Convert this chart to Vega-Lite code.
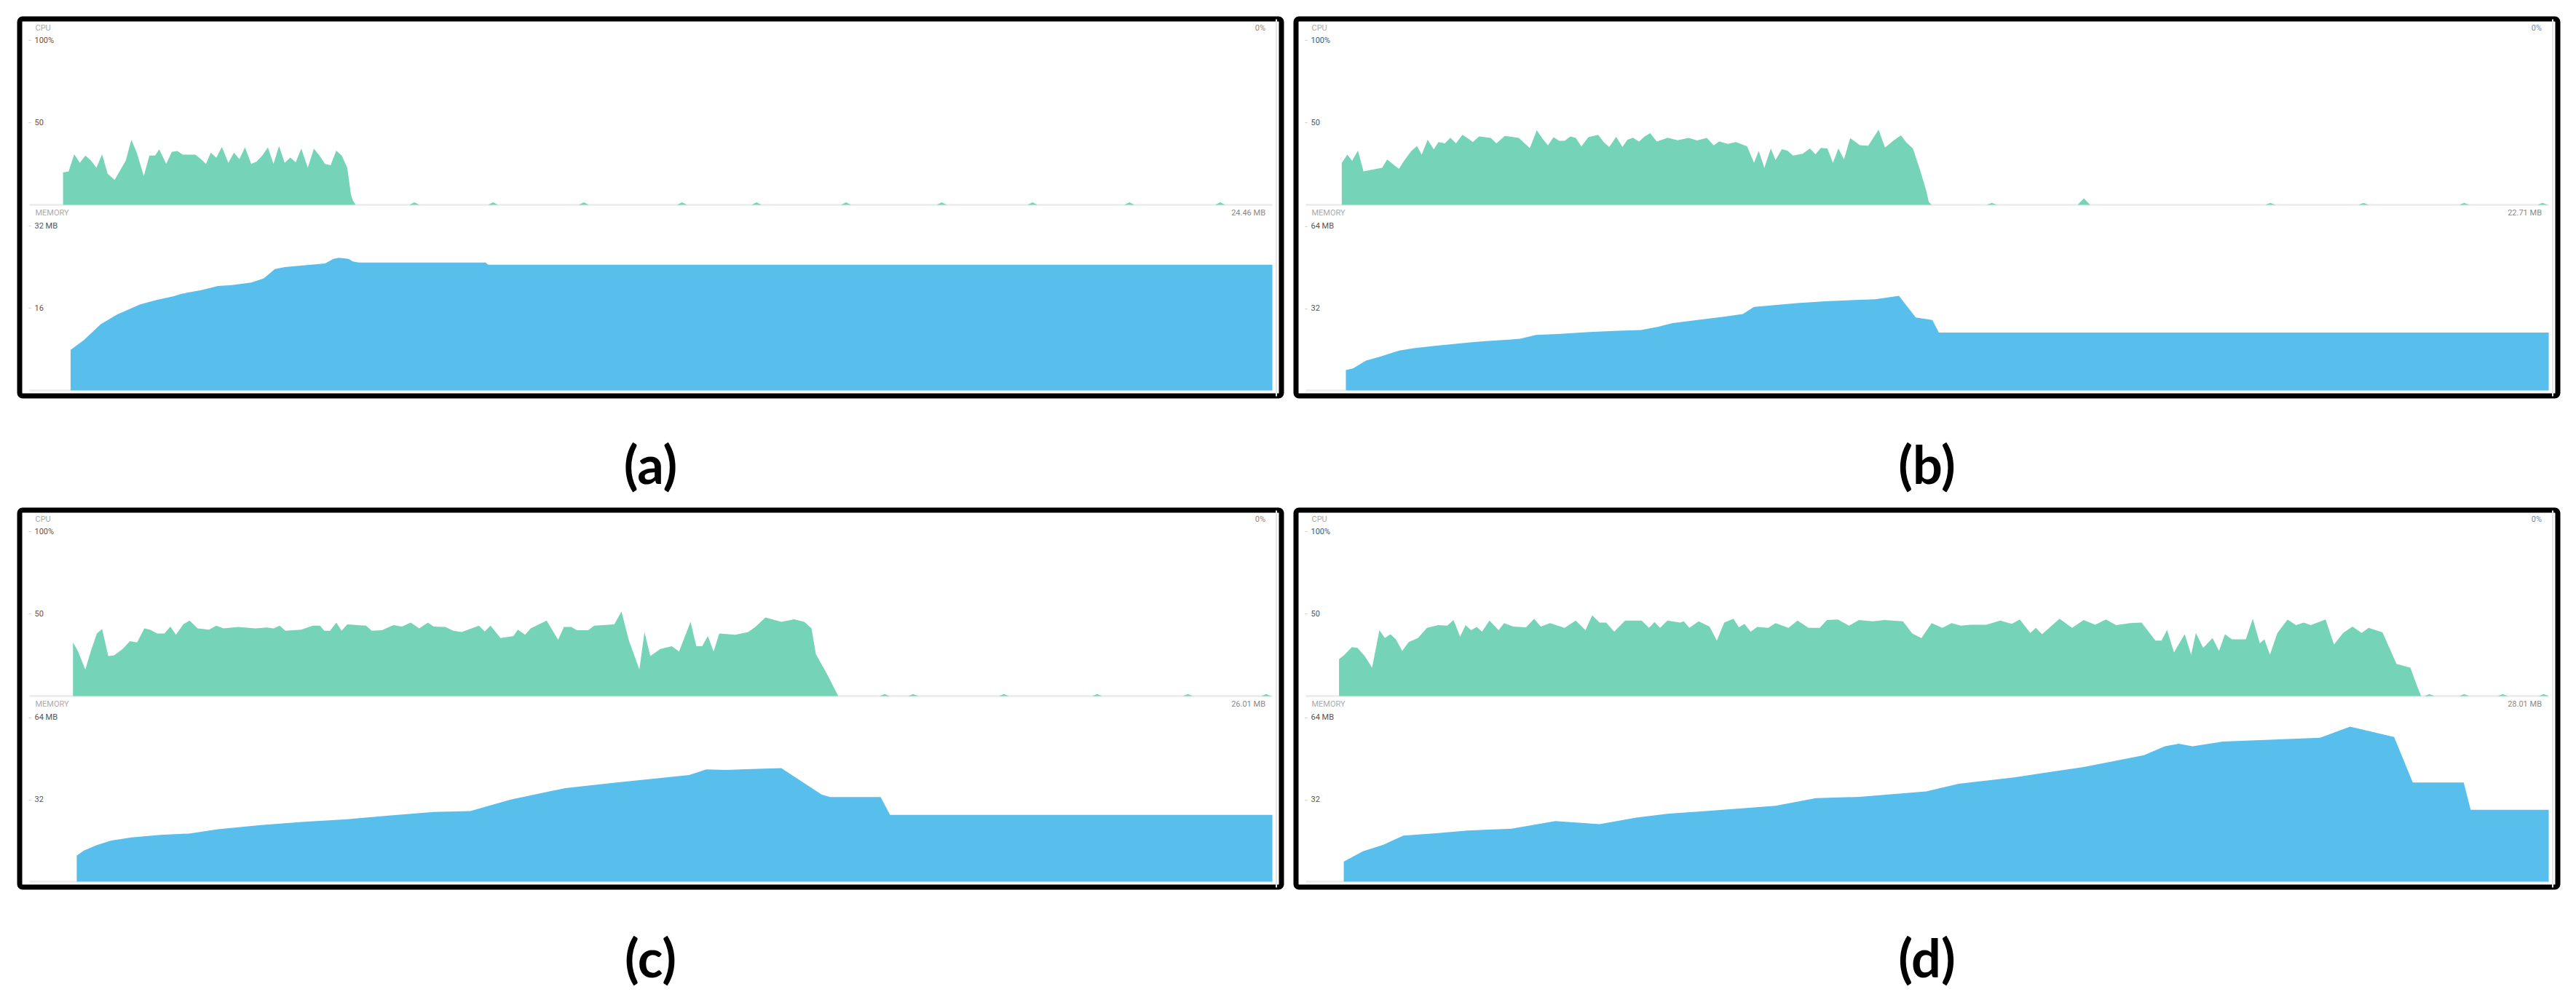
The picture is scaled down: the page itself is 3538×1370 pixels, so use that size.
{
"$schema": "https://vega.github.io/schema/vega-lite/v6.json",
"background": "white",
"padding": {"left": 23, "top": 22, "right": 5, "bottom": 5},
"config": {"view": {"stroke": "#000000", "strokeWidth": 7, "cornerRadius": 4}, "axis": {"labelFont": "Roboto", "titleFont": "Roboto"}},
"datasets": {
"base": [{"start": 0, "end": 100, "level": 0}],
"cpu_a": [{"time":2.70,"cpu":19.7},{"time":3.15,"cpu":20.4},{"time":3.60,"cpu":30.8},{"time":4.05,"cpu":25.6},{"time":4.50,"cpu":30.0},{"time":4.94,"cpu":27.0},{"time":5.39,"cpu":22.6},{"time":5.84,"cpu":30.8},{"time":6.29,"cpu":18.9},{"time":6.85,"cpu":15.2},{"time":7.30,"cpu":21.0},{"time":7.75,"cpu":27.0},{"time":8.20,"cpu":39.6},{"time":8.64,"cpu":31.5},{"time":9.20,"cpu":17.5},{"time":9.65,"cpu":30.0},{"time":10.10,"cpu":30.0},{"time":10.44,"cpu":33.7},{"time":11.00,"cpu":24.9},{"time":11.45,"cpu":32.2},{"time":11.89,"cpu":32.7},{"time":12.34,"cpu":30.5},{"time":13.35,"cpu":30.5},{"time":13.80,"cpu":27.8},{"time":14.20,"cpu":24.9},{"time":14.59,"cpu":31.8},{"time":15.03,"cpu":28.6},{"time":15.48,"cpu":35.2},{"time":16.00,"cpu":25.6},{"time":16.45,"cpu":31.8},{"time":16.89,"cpu":27.8},{"time":17.34,"cpu":34.9},{"time":17.84,"cpu":24.9},{"time":18.28,"cpu":26.3},{"time":18.73,"cpu":30.0},{"time":19.18,"cpu":34.9},{"time":19.63,"cpu":24.9},{"time":20.08,"cpu":35.7},{"time":20.53,"cpu":25.6},{"time":20.98,"cpu":28.8},{"time":21.42,"cpu":25.9},{"time":21.87,"cpu":34.2},{"time":22.39,"cpu":22.6},{"time":22.88,"cpu":34.2},{"time":23.33,"cpu":30.0},{"time":23.78,"cpu":24.9},{"time":24.23,"cpu":24.1},{"time":24.68,"cpu":33.0},{"time":25.12,"cpu":30.0},{"time":25.57,"cpu":22.6},{"time":25.86,"cpu":6.4},{"time":26.02,"cpu":2.7},{"time":26.24,"cpu":0},
{"time":30.57,"cpu":0},{"time":30.97,"cpu":1.5},{"time":31.37,"cpu":0},{"time":36.9,"cpu":0},{"time":37.3,"cpu":1.5},{"time":37.7,"cpu":0},{"time":44.2,"cpu":0},{"time":44.6,"cpu":1.5},{"time":45.0,"cpu":0},{"time":52.1,"cpu":0},{"time":52.5,"cpu":1.5},{"time":52.9,"cpu":0},{"time":58.1,"cpu":0},{"time":58.5,"cpu":1.5},{"time":58.9,"cpu":0},{"time":65.3,"cpu":0},{"time":65.7,"cpu":1.5},{"time":66.1,"cpu":0},{"time":73.0,"cpu":0},{"time":73.4,"cpu":1.5},{"time":73.8,"cpu":0},{"time":80.3,"cpu":0},{"time":80.7,"cpu":1.5},{"time":81.1,"cpu":0},{"time":88.1,"cpu":0},{"time":88.5,"cpu":1.5},{"time":88.9,"cpu":0},{"time":95.4,"cpu":0},{"time":95.8,"cpu":1.5},{"time":96.2,"cpu":0},{"time":100,"cpu":0}],
"mem_a": [{"time":3.31,"mem":7.9},{"time":4.38,"mem":9.8},{"time":5.73,"mem":12.9},{"time":7.07,"mem":14.8},{"time":8.87,"mem":16.7},{"time":10.21,"mem":17.6},{"time":11.56,"mem":18.3},{"time":12.23,"mem":18.8},{"time":13.80,"mem":19.5},{"time":15.15,"mem":20.3},{"time":16.27,"mem":20.5},{"time":17.84,"mem":21.0},{"time":18.85,"mem":21.8},{"time":19.74,"mem":23.6},{"time":20.53,"mem":24.0},{"time":22.32,"mem":24.4},{"time":23.78,"mem":24.7},{"time":24.45,"mem":25.6},{"time":24.90,"mem":25.8},{"time":25.68,"mem":25.6},{"time":26.02,"mem":25.1},{"time":26.5,"mem":24.9},{"time":36.7,"mem":24.9},{"time":36.9,"mem":24.46},{"time":100,"mem":24.46}],
"cpu_b": [{"time":2.89,"cpu":25.6},{"time":3.34,"cpu":30.5},{"time":3.72,"cpu":26.8},{"time":4.19,"cpu":33.0},{"time":4.64,"cpu":20.4},{"time":6.14,"cpu":22.6},{"time":6.54,"cpu":27.5},{"time":7.49,"cpu":21.9},{"time":7.93,"cpu":27.1},{"time":8.49,"cpu":32.7},{"time":8.94,"cpu":35.7},{"time":9.32,"cpu":30.5},{"time":9.80,"cpu":39.6},{"time":10.29,"cpu":33.7},{"time":10.67,"cpu":38.2},{"time":11.19,"cpu":37.4},{"time":11.63,"cpu":40.8},{"time":12.08,"cpu":37.4},{"time":12.60,"cpu":42.6},{"time":13.09,"cpu":40.1},{"time":13.43,"cpu":38.2},{"time":13.94,"cpu":41.6},{"time":14.88,"cpu":40.7},{"time":15.33,"cpu":37.4},{"time":16.01,"cpu":41.9},{"time":17.13,"cpu":40.7},{"time":18.02,"cpu":34.5},{"time":18.58,"cpu":45.3},{"time":19.03,"cpu":40.4},{"time":19.48,"cpu":36.2},{"time":19.93,"cpu":41.1},{"time":20.38,"cpu":38.9},{"time":20.83,"cpu":38.9},{"time":21.28,"cpu":41.6},{"time":21.72,"cpu":40.7},{"time":22.17,"cpu":35.5},{"time":22.73,"cpu":41.1},{"time":23.52,"cpu":42.6},{"time":23.97,"cpu":38.2},{"time":24.41,"cpu":35.2},{"time":24.97,"cpu":41.4},{"time":25.47,"cpu":35.2},{"time":25.87,"cpu":39.6},{"time":26.32,"cpu":40.8},{"time":26.81,"cpu":38.5},{"time":27.22,"cpu":41.4},{"time":27.71,"cpu":43.6},{"time":28.23,"cpu":38.5},{"time":29.12,"cpu":40.8},{"time":29.91,"cpu":39.3},{"time":30.80,"cpu":40.7},{"time":31.48,"cpu":39.2},{"time":32.26,"cpu":40.7},{"time":32.82,"cpu":36.2},{"time":33.26,"cpu":38.6},{"time":33.93,"cpu":37.1},{"time":34.60,"cpu":38.2},{"time":35.50,"cpu":35.6},{"time":36.06,"cpu":25.6},{"time":36.44,"cpu":32.7},{"time":36.89,"cpu":22.4},{"time":37.41,"cpu":34.3},{"time":37.79,"cpu":27.2},{"time":38.30,"cpu":33.8},{"time":38.75,"cpu":33.0},{"time":39.20,"cpu":30.0},{"time":39.98,"cpu":31.1},{"time":40.55,"cpu":34.3},{"time":41.00,"cpu":30.8},{"time":41.44,"cpu":34.6},{"time":41.96,"cpu":34.3},{"time":42.41,"cpu":25.6},{"time":42.85,"cpu":34.3},{"time":43.30,"cpu":27.7},{"time":43.80,"cpu":40.6},{"time":44.58,"cpu":36.3},{"time":45.25,"cpu":35.9},{"time":46.08,"cpu":45.7},{"time":46.60,"cpu":34.8},{"time":47.27,"cpu":39.0},{"time":47.88,"cpu":42.2},{"time":48.33,"cpu":37.8},{"time":48.84,"cpu":34.3},{"time":49.40,"cpu":21.6},{"time":49.90,"cpu":9.0},{"time":50.12,"cpu":1.9},{"time":50.34,"cpu":0},
{"time":54.8,"cpu":0},{"time":55.2,"cpu":1.2},{"time":55.6,"cpu":0},{"time":62.1,"cpu":0},{"time":62.6,"cpu":4.0},{"time":63.1,"cpu":0},{"time":77.2,"cpu":0},{"time":77.6,"cpu":1.2},{"time":78.0,"cpu":0},{"time":84.7,"cpu":0},{"time":85.1,"cpu":1.2},{"time":85.5,"cpu":0},{"time":92.8,"cpu":0},{"time":93.2,"cpu":1.2},{"time":93.6,"cpu":0},{"time":99.1,"cpu":0},{"time":99.5,"cpu":1.2},{"time":99.9,"cpu":0},{"time":100,"cpu":0}],
"mem_b": [{"time":3.22,"mem":7.9},{"time":3.80,"mem":8.6},{"time":4.84,"mem":11.6},{"time":5.89,"mem":13.0},{"time":7.51,"mem":15.5},{"time":8.67,"mem":16.4},{"time":10.52,"mem":17.4},{"time":13.07,"mem":18.6},{"time":14.46,"mem":19.2},{"time":16.54,"mem":19.8},{"time":17.24,"mem":20.1},{"time":18.51,"mem":21.6},{"time":20.48,"mem":22.0},{"time":22.80,"mem":22.7},{"time":25.11,"mem":23.2},{"time":26.97,"mem":23.5},{"time":28.36,"mem":24.8},{"time":29.51,"mem":26.2},{"time":31.83,"mem":27.6},{"time":33.5,"mem":28.6},{"time":35.16,"mem":29.7},{"time":36.06,"mem":32.5},{"time":39.54,"mem":34.0},{"time":41.78,"mem":34.7},{"time":45.81,"mem":35.5},{"time":47.72,"mem":36.8},{"time":49.07,"mem":28.4},{"time":50.41,"mem":27.4},{"time":50.93,"mem":22.5},{"time":100,"mem":22.5}],
"cpu_c": [{"time":3.50,"cpu":32.6},{"time":3.91,"cpu":27.1},{"time":4.49,"cpu":16.1},{"time":4.96,"cpu":27.9},{"time":5.42,"cpu":38.1},{"time":5.84,"cpu":40.8},{"time":6.34,"cpu":24.3},{"time":6.81,"cpu":24.8},{"time":7.50,"cpu":28.7},{"time":8.08,"cpu":33.4},{"time":8.66,"cpu":32.6},{"time":9.24,"cpu":41.2},{"time":9.70,"cpu":40.4},{"time":10.28,"cpu":38.1},{"time":10.86,"cpu":38.1},{"time":11.33,"cpu":42.3},{"time":11.79,"cpu":37.3},{"time":12.37,"cpu":43.6},{"time":12.88,"cpu":45.9},{"time":13.53,"cpu":41.2},{"time":14.45,"cpu":40.4},{"time":15.03,"cpu":42.8},{"time":15.61,"cpu":41.2},{"time":16.77,"cpu":42.0},{"time":18.16,"cpu":41.2},{"time":19.09,"cpu":41.7},{"time":19.66,"cpu":41.2},{"time":20.13,"cpu":42.8},{"time":20.59,"cpu":39.7},{"time":21.86,"cpu":40.4},{"time":22.79,"cpu":42.8},{"time":23.37,"cpu":42.8},{"time":23.72,"cpu":39.7},{"time":24.18,"cpu":39.7},{"time":24.69,"cpu":44.7},{"time":25.11,"cpu":39.7},{"time":25.57,"cpu":43.6},{"time":27.08,"cpu":42.8},{"time":27.54,"cpu":39.7},{"time":28.35,"cpu":40.0},{"time":29.28,"cpu":43.1},{"time":29.97,"cpu":42.3},{"time":30.67,"cpu":44.7},{"time":31.36,"cpu":41.2},{"time":32.06,"cpu":44.7},{"time":32.52,"cpu":42.3},{"time":33.45,"cpu":42.0},{"time":34.10,"cpu":39.7},{"time":34.77,"cpu":38.9},{"time":36.16,"cpu":42.8},{"time":36.63,"cpu":39.3},{"time":37.09,"cpu":42.8},{"time":37.90,"cpu":35.3},{"time":38.94,"cpu":36.5},{"time":39.29,"cpu":40.4},{"time":39.87,"cpu":37.3},{"time":40.33,"cpu":41.2},{"time":41.61,"cpu":45.9},{"time":42.53,"cpu":34.2},{"time":43.00,"cpu":42.0},{"time":43.58,"cpu":42.0},{"time":44.04,"cpu":40.0},{"time":44.96,"cpu":40.0},{"time":45.43,"cpu":42.8},{"time":47.05,"cpu":43.6},{"time":47.63,"cpu":51.4},{"time":48.21,"cpu":34.2},{"time":49.07,"cpu":16.1},{"time":49.48,"cpu":38.9},{"time":49.95,"cpu":24.3},{"time":50.76,"cpu":28.7},{"time":51.68,"cpu":30.3},{"time":52.26,"cpu":27.1},{"time":53.19,"cpu":45.1},{"time":53.65,"cpu":30.3},{"time":54.12,"cpu":30.3},{"time":54.58,"cpu":36.5},{"time":55.04,"cpu":27.1},{"time":55.50,"cpu":38.1},{"time":56.78,"cpu":37.3},{"time":57.82,"cpu":38.9},{"time":58.40,"cpu":42.0},{"time":59.21,"cpu":47.8},{"time":60.49,"cpu":45.1},{"time":61.53,"cpu":46.7},{"time":62.34,"cpu":45.1},{"time":62.92,"cpu":41.2},{"time":63.27,"cpu":25.5},{"time":64.19,"cpu":13.0},{"time":65.07,"cpu":0},
{"time":68.4,"cpu":0},{"time":68.8,"cpu":1.2},{"time":69.2,"cpu":0},{"time":70.7,"cpu":0},{"time":71.1,"cpu":1.2},{"time":71.5,"cpu":0},{"time":78.0,"cpu":0},{"time":78.4,"cpu":1.2},{"time":78.8,"cpu":0},{"time":85.5,"cpu":0},{"time":85.9,"cpu":1.2},{"time":86.3,"cpu":0},{"time":92.8,"cpu":0},{"time":93.2,"cpu":1.2},{"time":93.6,"cpu":0},{"time":99.1,"cpu":0},{"time":99.5,"cpu":1.2},{"time":99.9,"cpu":0},{"time":100,"cpu":0}],
"mem_c": [{"time":3.80,"mem":10.1},{"time":4.38,"mem":12.1},{"time":5.42,"mem":14.2},{"time":6.58,"mem":16.0},{"time":8.20,"mem":17.2},{"time":10.51,"mem":18.2},{"time":12.83,"mem":18.7},{"time":15.15,"mem":20.4},{"time":18.62,"mem":22.0},{"time":22.10,"mem":23.3},{"time":25.57,"mem":24.3},{"time":29.05,"mem":25.8},{"time":32.52,"mem":27.1},{"time":35.47,"mem":27.5},{"time":38.71,"mem":31.9},{"time":43.11,"mem":36.4},{"time":46.82,"mem":38.4},{"time":53.07,"mem":41.5},{"time":54.46,"mem":43.7},{"time":56.08,"mem":43.5},{"time":60.49,"mem":44.2},{"time":63.73,"mem":33.9},{"time":64.42,"mem":32.9},{"time":68.48,"mem":32.9},{"time":69.24,"mem":26.0},{"time":100,"mem":26.0}],
"cpu_d": [{"time":2.67,"cpu":22.4},{"time":3.11,"cpu":25.1},{"time":3.70,"cpu":29.8},{"time":4.15,"cpu":29.3},{"time":4.74,"cpu":24.3},{"time":5.33,"cpu":17.2},{"time":5.92,"cpu":40.0},{"time":6.36,"cpu":35.3},{"time":6.80,"cpu":37.6},{"time":7.25,"cpu":34.5},{"time":7.75,"cpu":27.4},{"time":8.28,"cpu":32.9},{"time":9.02,"cpu":35.3},{"time":9.75,"cpu":41.5},{"time":10.64,"cpu":43.1},{"time":11.38,"cpu":42.8},{"time":11.88,"cpu":46.2},{"time":12.41,"cpu":36.1},{"time":12.85,"cpu":43.1},{"time":13.30,"cpu":40.0},{"time":13.74,"cpu":42.0},{"time":14.18,"cpu":39.2},{"time":14.77,"cpu":45.9},{"time":15.51,"cpu":40.0},{"time":15.95,"cpu":44.4},{"time":16.69,"cpu":42.3},{"time":17.72,"cpu":41.8},{"time":18.37,"cpu":47.0},{"time":18.90,"cpu":42.3},{"time":19.64,"cpu":44.4},{"time":20.82,"cpu":41.5},{"time":21.71,"cpu":45.9},{"time":22.50,"cpu":40.0},{"time":23.04,"cpu":49.1},{"time":23.63,"cpu":44.7},{"time":24.16,"cpu":44.7},{"time":24.81,"cpu":39.2},{"time":25.69,"cpu":45.9},{"time":27.02,"cpu":45.9},{"time":27.61,"cpu":41.5},{"time":28.05,"cpu":45.0},{"time":28.50,"cpu":41.5},{"time":29.09,"cpu":45.9},{"time":30.12,"cpu":44.7},{"time":30.41,"cpu":45.5},{"time":30.86,"cpu":41.5},{"time":31.60,"cpu":45.5},{"time":32.48,"cpu":42.3},{"time":33.07,"cpu":33.7},{"time":33.66,"cpu":44.7},{"time":34.40,"cpu":47.0},{"time":34.84,"cpu":41.8},{"time":35.29,"cpu":43.9},{"time":35.79,"cpu":39.2},{"time":36.32,"cpu":42.0},{"time":37.20,"cpu":41.5},{"time":37.79,"cpu":44.4},{"time":38.83,"cpu":41.5},{"time":39.56,"cpu":45.9},{"time":40.45,"cpu":41.5},{"time":41.34,"cpu":41.5},{"time":41.93,"cpu":46.2},{"time":42.81,"cpu":46.6},{"time":43.70,"cpu":42.8},{"time":44.50,"cpu":46.2},{"time":45.62,"cpu":45.5},{"time":46.55,"cpu":46.2},{"time":48.04,"cpu":45.5},{"time":48.79,"cpu":38.1},{"time":49.53,"cpu":35.3},{"time":50.35,"cpu":44.4},{"time":51.21,"cpu":41.5},{"time":51.96,"cpu":44.4},{"time":52.70,"cpu":42.8},{"time":53.45,"cpu":43.4},{"time":54.75,"cpu":43.4},{"time":55.87,"cpu":45.9},{"time":56.80,"cpu":43.9},{"time":57.44,"cpu":46.6},{"time":58.29,"cpu":38.4},{"time":58.74,"cpu":41.5},{"time":59.23,"cpu":37.6},{"time":60.64,"cpu":47.0},{"time":61.65,"cpu":41.5},{"time":62.58,"cpu":46.2},{"time":63.51,"cpu":43.4},{"time":64.37,"cpu":46.6},{"time":65.19,"cpu":43.1},{"time":66.31,"cpu":44.4},{"time":67.24,"cpu":44.7},{"time":68.36,"cpu":33.7},{"time":68.85,"cpu":33.7},{"time":69.29,"cpu":40.3},{"time":69.85,"cpu":26.6},{"time":70.71,"cpu":37.6},{"time":71.23,"cpu":25.1},{"time":71.61,"cpu":38.4},{"time":72.20,"cpu":29.3},{"time":72.95,"cpu":35.3},{"time":73.47,"cpu":27.4},{"time":73.95,"cpu":37.6},{"time":74.51,"cpu":34.5},{"time":75.63,"cpu":34.5},{"time":76.19,"cpu":47.0},{"time":76.75,"cpu":32.1},{"time":77.12,"cpu":34.5},{"time":77.57,"cpu":25.1},{"time":78.17,"cpu":38.4},{"time":78.99,"cpu":46.6},{"time":79.66,"cpu":43.1},{"time":80.29,"cpu":44.7},{"time":80.85,"cpu":43.1},{"time":82.05,"cpu":46.6},{"time":82.72,"cpu":31.3},{"time":83.46,"cpu":38.4},{"time":84.21,"cpu":42.3},{"time":84.95,"cpu":38.4},{"time":85.51,"cpu":41.5},{"time":86.63,"cpu":38.7},{"time":87.75,"cpu":19.6},{"time":88.87,"cpu":17.2},{"time":89.36,"cpu":7.1},{"time":89.73,"cpu":0},
{"time":90.0,"cpu":0},{"time":90.4,"cpu":1.2},{"time":90.8,"cpu":0},{"time":92.8,"cpu":0},{"time":93.2,"cpu":1.2},{"time":93.6,"cpu":0},{"time":95.9,"cpu":0},{"time":96.3,"cpu":1.2},{"time":96.7,"cpu":0},{"time":99.2,"cpu":0},{"time":99.6,"cpu":1.2},{"time":100,"cpu":0}],
"mem_d": [{"time":3.05,"mem":7.8},{"time":4.59,"mem":11.8},{"time":6.21,"mem":14.3},{"time":7.84,"mem":17.9},{"time":10.64,"mem":18.9},{"time":13.00,"mem":19.9},{"time":16.54,"mem":20.6},{"time":20.08,"mem":23.6},{"time":23.63,"mem":22.4},{"time":26.58,"mem":24.9},{"time":29.23,"mem":26.5},{"time":32.19,"mem":27.5},{"time":37.79,"mem":29.5},{"time":41.04,"mem":32.5},{"time":44.53,"mem":33.0},{"time":49.91,"mem":35.1},{"time":52.52,"mem":38.1},{"time":56.99,"mem":40.6},{"time":62.58,"mem":44.6},{"time":67.43,"mem":49.2},{"time":69.11,"mem":52.7},{"time":70.23,"mem":53.7},{"time":71.34,"mem":52.7},{"time":73.77,"mem":54.5},{"time":81.60,"mem":56.0},{"time":84.02,"mem":60.3},{"time":87.56,"mem":56.3},{"time":89.06,"mem":38.6},{"time":93.16,"mem":38.6},{"time":93.72,"mem":28.0},{"time":100,"mem":28.0}]
},
"spacing": 14,
"resolve": {"scale": {"x": "independent", "y": "independent"}},
"vconcat": [
{"hconcat": [
{"width": 1733, "height": 518,
 "title": {"text": "(a)", "orient": "bottom", "anchor": "middle", "frame": "group", "offset": 121, "baseline": "alphabetic", "fontSize": 72, "font": "Lato", "fontWeight": "bold", "color": "#000000"},
 "resolve": {"scale": {"y": "independent"}, "axis": {"y": "independent"}},
 "layer": [
  {"data": {"name": "base"}, "mark": {"type": "rule", "color": "#eeeeee", "strokeWidth": 3},
   "encoding": {"x": {"field": "start", "type": "quantitative", "scale": {"domain": [-0.791, 100.73]}, "axis": null}, "x2": {"field": "end"},
    "y": {"field": "level", "type": "quantitative", "scale": {"domain": [-116.15, 113.05]}, "axis": {"orient": "right", "offset": -7.5, "values": [], "domain": true, "domainColor": "#e6e6e6", "domainWidth": 2, "ticks": false, "labels": false, "grid": false, "title": "0%", "titleAngle": 0, "titleAlign": "right", "titleBaseline": "middle", "titleX": -15, "titleY": 12.5, "titleFontSize": 11, "titleColor": "#888888", "titleFontWeight": "normal"}}}},
  {"data": {"name": "cpu_a"}, "mark": {"type": "area", "color": "#75d3b7", "opacity": 1},
   "encoding": {"x": {"field": "time", "type": "quantitative", "scale": {"domain": [-0.791, 100.73]}, "axis": null},
    "y": {"field": "cpu", "type": "quantitative", "scale": {"domain": [-116.15, 113.05]}, "axis": {"orient": "left", "offset": -15, "values": [50, 100], "labelExpr": "datum.value == 100 ? '100%' : '50'", "domain": false, "ticks": true, "tickSize": 3, "tickColor": "#cccccc", "grid": false, "labelAlign": "left", "labelPadding": -8, "labelBaseline": "middle", "labelFontSize": 11, "labelColor": "#555555", "labelOverlap": false, "title": "CPU", "titleAngle": 0, "titleAlign": "left", "titleBaseline": "middle", "titleX": 6, "titleY": 12.5, "titleFontSize": 11, "titleColor": "#aaaaaa", "titleFontWeight": "normal"}},
    "y2": {"datum": 0}}},
  {"data": {"name": "base"}, "mark": {"type": "rule", "color": "#eeeeee", "strokeWidth": 3},
   "encoding": {"x": {"field": "start", "type": "quantitative", "scale": {"domain": [-0.791, 100.73]}, "axis": null}, "x2": {"field": "end"},
    "y": {"field": "level", "type": "quantitative", "scale": {"domain": [-1.062, 72.28]}, "axis": {"orient": "right", "offset": -7.5, "values": [], "domain": false, "ticks": false, "labels": false, "grid": false, "title": "24.46 MB", "titleAngle": 0, "titleAlign": "right", "titleBaseline": "middle", "titleX": -15, "titleY": 266.5, "titleFontSize": 11, "titleColor": "#888888", "titleFontWeight": "normal"}}}},
  {"data": {"name": "mem_a"}, "mark": {"type": "area", "color": "#58bfec", "opacity": 1},
   "encoding": {"x": {"field": "time", "type": "quantitative", "scale": {"domain": [-0.791, 100.73]}, "axis": null},
    "y": {"field": "mem", "type": "quantitative", "scale": {"domain": [-1.062, 72.28]}, "axis": {"orient": "left", "offset": -15, "values": [16, 32], "labelExpr": "datum.value == 32 ? '32 MB' : '16'", "domain": false, "ticks": true, "tickSize": 3, "tickColor": "#cccccc", "grid": false, "labelAlign": "left", "labelPadding": -8, "labelBaseline": "middle", "labelFontSize": 11, "labelColor": "#555555", "labelOverlap": false, "title": "MEMORY", "titleAngle": 0, "titleAlign": "left", "titleBaseline": "middle", "titleX": 6, "titleY": 266.5, "titleFontSize": 11, "titleColor": "#aaaaaa", "titleFontWeight": "normal"}},
    "y2": {"datum": 0}}}
 ]},
{"width": 1733, "height": 518,
 "title": {"text": "(b)", "orient": "bottom", "anchor": "middle", "frame": "group", "offset": 121, "baseline": "alphabetic", "fontSize": 72, "font": "Lato", "fontWeight": "bold", "color": "#000000"},
 "resolve": {"scale": {"y": "independent"}, "axis": {"y": "independent"}},
 "layer": [
  {"data": {"name": "base"}, "mark": {"type": "rule", "color": "#eeeeee", "strokeWidth": 3},
   "encoding": {"x": {"field": "start", "type": "quantitative", "scale": {"domain": [-0.791, 100.73]}, "axis": null}, "x2": {"field": "end"},
    "y": {"field": "level", "type": "quantitative", "scale": {"domain": [-116.15, 113.05]}, "axis": {"orient": "right", "offset": -7.5, "values": [], "domain": true, "domainColor": "#e6e6e6", "domainWidth": 2, "ticks": false, "labels": false, "grid": false, "title": "0%", "titleAngle": 0, "titleAlign": "right", "titleBaseline": "middle", "titleX": -15, "titleY": 12.5, "titleFontSize": 11, "titleColor": "#888888", "titleFontWeight": "normal"}}}},
  {"data": {"name": "cpu_b"}, "mark": {"type": "area", "color": "#75d3b7", "opacity": 1},
   "encoding": {"x": {"field": "time", "type": "quantitative", "scale": {"domain": [-0.791, 100.73]}, "axis": null},
    "y": {"field": "cpu", "type": "quantitative", "scale": {"domain": [-116.15, 113.05]}, "axis": {"orient": "left", "offset": -15, "values": [50, 100], "labelExpr": "datum.value == 100 ? '100%' : '50'", "domain": false, "ticks": true, "tickSize": 3, "tickColor": "#cccccc", "grid": false, "labelAlign": "left", "labelPadding": -8, "labelBaseline": "middle", "labelFontSize": 11, "labelColor": "#555555", "labelOverlap": false, "title": "CPU", "titleAngle": 0, "titleAlign": "left", "titleBaseline": "middle", "titleX": 6, "titleY": 12.5, "titleFontSize": 11, "titleColor": "#aaaaaa", "titleFontWeight": "normal"}},
    "y2": {"datum": 0}}},
  {"data": {"name": "base"}, "mark": {"type": "rule", "color": "#eeeeee", "strokeWidth": 3},
   "encoding": {"x": {"field": "start", "type": "quantitative", "scale": {"domain": [-0.791, 100.73]}, "axis": null}, "x2": {"field": "end"},
    "y": {"field": "level", "type": "quantitative", "scale": {"domain": [-2.124, 144.57]}, "axis": {"orient": "right", "offset": -7.5, "values": [], "domain": false, "ticks": false, "labels": false, "grid": false, "title": "22.71 MB", "titleAngle": 0, "titleAlign": "right", "titleBaseline": "middle", "titleX": -15, "titleY": 266.5, "titleFontSize": 11, "titleColor": "#888888", "titleFontWeight": "normal"}}}},
  {"data": {"name": "mem_b"}, "mark": {"type": "area", "color": "#58bfec", "opacity": 1},
   "encoding": {"x": {"field": "time", "type": "quantitative", "scale": {"domain": [-0.791, 100.73]}, "axis": null},
    "y": {"field": "mem", "type": "quantitative", "scale": {"domain": [-2.124, 144.57]}, "axis": {"orient": "left", "offset": -15, "values": [32, 64], "labelExpr": "datum.value == 64 ? '64 MB' : '32'", "domain": false, "ticks": true, "tickSize": 3, "tickColor": "#cccccc", "grid": false, "labelAlign": "left", "labelPadding": -8, "labelBaseline": "middle", "labelFontSize": 11, "labelColor": "#555555", "labelOverlap": false, "title": "MEMORY", "titleAngle": 0, "titleAlign": "left", "titleBaseline": "middle", "titleX": 6, "titleY": 266.5, "titleFontSize": 11, "titleColor": "#aaaaaa", "titleFontWeight": "normal"}},
    "y2": {"datum": 0}}}
 ]}
], "spacing": 12, "resolve": {"scale": {"x": "independent", "y": "independent"}}},
{"hconcat": [
{"width": 1733, "height": 518,
 "title": {"text": "(c)", "orient": "bottom", "anchor": "middle", "frame": "group", "offset": 124, "baseline": "alphabetic", "fontSize": 72, "font": "Lato", "fontWeight": "bold", "color": "#000000"},
 "resolve": {"scale": {"y": "independent"}, "axis": {"y": "independent"}},
 "layer": [
  {"data": {"name": "base"}, "mark": {"type": "rule", "color": "#eeeeee", "strokeWidth": 3},
   "encoding": {"x": {"field": "start", "type": "quantitative", "scale": {"domain": [-0.791, 100.73]}, "axis": null}, "x2": {"field": "end"},
    "y": {"field": "level", "type": "quantitative", "scale": {"domain": [-116.15, 113.05]}, "axis": {"orient": "right", "offset": -7.5, "values": [], "domain": true, "domainColor": "#e6e6e6", "domainWidth": 2, "ticks": false, "labels": false, "grid": false, "title": "0%", "titleAngle": 0, "titleAlign": "right", "titleBaseline": "middle", "titleX": -15, "titleY": 12.5, "titleFontSize": 11, "titleColor": "#888888", "titleFontWeight": "normal"}}}},
  {"data": {"name": "cpu_c"}, "mark": {"type": "area", "color": "#75d3b7", "opacity": 1},
   "encoding": {"x": {"field": "time", "type": "quantitative", "scale": {"domain": [-0.791, 100.73]}, "axis": null},
    "y": {"field": "cpu", "type": "quantitative", "scale": {"domain": [-116.15, 113.05]}, "axis": {"orient": "left", "offset": -15, "values": [50, 100], "labelExpr": "datum.value == 100 ? '100%' : '50'", "domain": false, "ticks": true, "tickSize": 3, "tickColor": "#cccccc", "grid": false, "labelAlign": "left", "labelPadding": -8, "labelBaseline": "middle", "labelFontSize": 11, "labelColor": "#555555", "labelOverlap": false, "title": "CPU", "titleAngle": 0, "titleAlign": "left", "titleBaseline": "middle", "titleX": 6, "titleY": 12.5, "titleFontSize": 11, "titleColor": "#aaaaaa", "titleFontWeight": "normal"}},
    "y2": {"datum": 0}}},
  {"data": {"name": "base"}, "mark": {"type": "rule", "color": "#eeeeee", "strokeWidth": 3},
   "encoding": {"x": {"field": "start", "type": "quantitative", "scale": {"domain": [-0.791, 100.73]}, "axis": null}, "x2": {"field": "end"},
    "y": {"field": "level", "type": "quantitative", "scale": {"domain": [-2.124, 144.57]}, "axis": {"orient": "right", "offset": -7.5, "values": [], "domain": false, "ticks": false, "labels": false, "grid": false, "title": "26.01 MB", "titleAngle": 0, "titleAlign": "right", "titleBaseline": "middle", "titleX": -15, "titleY": 266.5, "titleFontSize": 11, "titleColor": "#888888", "titleFontWeight": "normal"}}}},
  {"data": {"name": "mem_c"}, "mark": {"type": "area", "color": "#58bfec", "opacity": 1},
   "encoding": {"x": {"field": "time", "type": "quantitative", "scale": {"domain": [-0.791, 100.73]}, "axis": null},
    "y": {"field": "mem", "type": "quantitative", "scale": {"domain": [-2.124, 144.57]}, "axis": {"orient": "left", "offset": -15, "values": [32, 64], "labelExpr": "datum.value == 64 ? '64 MB' : '32'", "domain": false, "ticks": true, "tickSize": 3, "tickColor": "#cccccc", "grid": false, "labelAlign": "left", "labelPadding": -8, "labelBaseline": "middle", "labelFontSize": 11, "labelColor": "#555555", "labelOverlap": false, "title": "MEMORY", "titleAngle": 0, "titleAlign": "left", "titleBaseline": "middle", "titleX": 6, "titleY": 266.5, "titleFontSize": 11, "titleColor": "#aaaaaa", "titleFontWeight": "normal"}},
    "y2": {"datum": 0}}}
 ]},
{"width": 1733, "height": 518,
 "title": {"text": "(d)", "orient": "bottom", "anchor": "middle", "frame": "group", "offset": 124, "baseline": "alphabetic", "fontSize": 72, "font": "Lato", "fontWeight": "bold", "color": "#000000"},
 "resolve": {"scale": {"y": "independent"}, "axis": {"y": "independent"}},
 "layer": [
  {"data": {"name": "base"}, "mark": {"type": "rule", "color": "#eeeeee", "strokeWidth": 3},
   "encoding": {"x": {"field": "start", "type": "quantitative", "scale": {"domain": [-0.791, 100.73]}, "axis": null}, "x2": {"field": "end"},
    "y": {"field": "level", "type": "quantitative", "scale": {"domain": [-116.15, 113.05]}, "axis": {"orient": "right", "offset": -7.5, "values": [], "domain": true, "domainColor": "#e6e6e6", "domainWidth": 2, "ticks": false, "labels": false, "grid": false, "title": "0%", "titleAngle": 0, "titleAlign": "right", "titleBaseline": "middle", "titleX": -15, "titleY": 12.5, "titleFontSize": 11, "titleColor": "#888888", "titleFontWeight": "normal"}}}},
  {"data": {"name": "cpu_d"}, "mark": {"type": "area", "color": "#75d3b7", "opacity": 1},
   "encoding": {"x": {"field": "time", "type": "quantitative", "scale": {"domain": [-0.791, 100.73]}, "axis": null},
    "y": {"field": "cpu", "type": "quantitative", "scale": {"domain": [-116.15, 113.05]}, "axis": {"orient": "left", "offset": -15, "values": [50, 100], "labelExpr": "datum.value == 100 ? '100%' : '50'", "domain": false, "ticks": true, "tickSize": 3, "tickColor": "#cccccc", "grid": false, "labelAlign": "left", "labelPadding": -8, "labelBaseline": "middle", "labelFontSize": 11, "labelColor": "#555555", "labelOverlap": false, "title": "CPU", "titleAngle": 0, "titleAlign": "left", "titleBaseline": "middle", "titleX": 6, "titleY": 12.5, "titleFontSize": 11, "titleColor": "#aaaaaa", "titleFontWeight": "normal"}},
    "y2": {"datum": 0}}},
  {"data": {"name": "base"}, "mark": {"type": "rule", "color": "#eeeeee", "strokeWidth": 3},
   "encoding": {"x": {"field": "start", "type": "quantitative", "scale": {"domain": [-0.791, 100.73]}, "axis": null}, "x2": {"field": "end"},
    "y": {"field": "level", "type": "quantitative", "scale": {"domain": [-2.124, 144.57]}, "axis": {"orient": "right", "offset": -7.5, "values": [], "domain": false, "ticks": false, "labels": false, "grid": false, "title": "28.01 MB", "titleAngle": 0, "titleAlign": "right", "titleBaseline": "middle", "titleX": -15, "titleY": 266.5, "titleFontSize": 11, "titleColor": "#888888", "titleFontWeight": "normal"}}}},
  {"data": {"name": "mem_d"}, "mark": {"type": "area", "color": "#58bfec", "opacity": 1},
   "encoding": {"x": {"field": "time", "type": "quantitative", "scale": {"domain": [-0.791, 100.73]}, "axis": null},
    "y": {"field": "mem", "type": "quantitative", "scale": {"domain": [-2.124, 144.57]}, "axis": {"orient": "left", "offset": -15, "values": [32, 64], "labelExpr": "datum.value == 64 ? '64 MB' : '32'", "domain": false, "ticks": true, "tickSize": 3, "tickColor": "#cccccc", "grid": false, "labelAlign": "left", "labelPadding": -8, "labelBaseline": "middle", "labelFontSize": 11, "labelColor": "#555555", "labelOverlap": false, "title": "MEMORY", "titleAngle": 0, "titleAlign": "left", "titleBaseline": "middle", "titleX": 6, "titleY": 266.5, "titleFontSize": 11, "titleColor": "#aaaaaa", "titleFontWeight": "normal"}},
    "y2": {"datum": 0}}}
 ]}
], "spacing": 12, "resolve": {"scale": {"x": "independent", "y": "independent"}}}
]
}
